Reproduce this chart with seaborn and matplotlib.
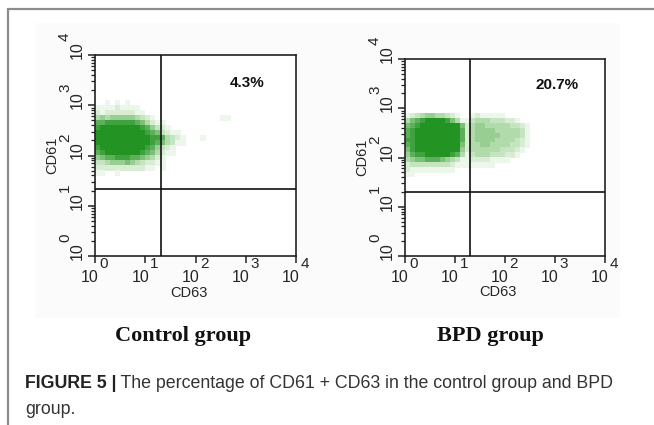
import numpy as np
import pandas as pd
import matplotlib
matplotlib.use("Agg")
import matplotlib.pyplot as plt
import seaborn as sns
from matplotlib.colors import LinearSegmentedColormap
from matplotlib.lines import Line2D
from matplotlib.patches import Rectangle
from matplotlib.ticker import LogLocator, NullFormatter
from matplotlib.transforms import blended_transform_factory, offset_copy

# ---------------- data ----------------
# density of events per 0.1-decade cell (0 = none, 9 = solid), rows top -> bottom
row_log_y = [3.1, 3.0, 2.9, 2.8, 2.7, 2.6, 2.5, 2.4, 2.3, 2.2, 2.1, 2.0, 1.9, 1.8, 1.7, 1.6]
col_log_x = [round(0.1 * i, 1) for i in range(28)]

control_density = [
    "0000000000000000000000000000",
    "0010101000000000000000000000",
    "1111211110000000000000000000",
    "2122222211000000000000000000",
    "4545555543210000000000000110",
    "7788888876421100000000000000",
    "8999999998753210000000000000",
    "9999999999876321100000000000",
    "9999999999988743210001000000",
    "9999999999987643110000000000",
    "8999999999875321000000000000",
    "7899999998764211000000000000",
    "5677888776542100000000000000",
    "3345556543221100000000000000",
    "2222222222110100000000000000",
    "1100100000000000000000000000",
]

bpd_density = [
    "0000000000000000000000000000",
    "0000000000000000000000000000",
    "0000000000000000000000000000",
    "1234554432100121111100000000",
    "4678999986411344433322100000",
    "6789999999962455444443321000",
    "7899999999972455554444431000",
    "7899999999972455555444431000",
    "8899999999972455554444321000",
    "7899999999962445544443321000",
    "6899999999952444444333210000",
    "5788999998741344433322100000",
    "4566777654311222211110000000",
    "2333333332111111110000000000",
    "2111111111000000000000000000",
    "1100000000000000000000000000",
]

groups = ["Control group", "BPD group"]
percent_labels = ["4.3%", "20.7%"]
gates = [(20.5, 22.0), (20.0, 20.0)]          # (CD63 gate, CD61 gate)
tick_values = [1, 10, 100, 1000, 10000]
tick_exponents = ["0", "1", "2", "3", "4"]
x_label = "CD63"
y_label = "CD61"
caption_bold = "FIGURE 5 |"
caption_rest = " The percentage of CD61 + CD63 in the control group and BPD"
caption_line2 = "group."


def cells(rows):
    recs = []
    for ly, r in zip(row_log_y, rows):
        r = r.ljust(len(col_log_x), "0")[:len(col_log_x)]
        for lx, ch in zip(col_log_x, r):
            d = int(ch)
            if d > 0:
                recs.append({"x": 10 ** (lx + 0.05), "y": 10 ** (ly + 0.05), "d": d})
    return pd.DataFrame(recs)


# ---------------- style ----------------
sns.set_style("white")
plt.rcParams["font.family"] = ["Liberation Sans", "DejaVu Sans"]

green_cmap = LinearSegmentedColormap.from_list("g", ["#ffffff", "#a8d6a0", "#239323"])

fig = plt.figure(figsize=(6.54, 4.25), dpi=100)
W, H = 654, 425

# faint image background and page frame
fig.patches.append(Rectangle((35 / W, 1 - 318 / H), (620 - 35) / W, (318 - 23) / H,
                             transform=fig.transFigure, facecolor="#fbfbfb",
                             edgecolor="none", zorder=-5))
fig.add_artist(Line2D([8 / W, 8 / W], [0, 1 - 9 / H], transform=fig.transFigure,
                      color="#8c8c8c", lw=1.6))
fig.add_artist(Line2D([8 / W, 1], [1 - 9 / H, 1 - 9 / H], transform=fig.transFigure,
                      color="#8c8c8c", lw=1.6))

axes_px = [(95, 55, 201, 201), (405, 59, 200, 197)]
datasets = [control_density, bpd_density]
label_x_px = [183, 490]
pct_pos = [(1050, 2750), (1100, 2950)]
TICK_FS = 11.5
SUP_FS = 11

for i, (l, t, w, h) in enumerate(axes_px):
    ax = fig.add_axes([l / W, 1 - (t + h) / H, w / W, h / H])
    ax.set_facecolor("white")
    df = cells(datasets[i])
    sns.scatterplot(data=df, x="x", y="y", hue="d", palette=green_cmap, hue_norm=(0, 9),
                    marker="s", s=15, linewidth=0, legend=False, ax=ax, zorder=2)
    ax.set_xscale("log")
    ax.set_yscale("log")
    ax.set_xlim(1, 1e4)
    ax.set_ylim(1, 1e4)
    gx, gy = gates[i]
    ax.axvline(gx, color="#111111", lw=1.2, zorder=3)
    ax.axhline(gy, color="#111111", lw=1.2, zorder=3)
    for sp in ax.spines.values():
        sp.set_color("#222222")
        sp.set_linewidth(1.2)
        sp.set_visible(True)
    ax.set_xticks(tick_values)
    ax.set_yticks(tick_values)
    ax.set_xticklabels([""] * len(tick_values))
    ax.set_yticklabels([""] * len(tick_values))
    ax.xaxis.set_minor_locator(LogLocator(base=10, subs=np.arange(2, 10)))
    ax.yaxis.set_minor_locator(LogLocator(base=10, subs=np.arange(2, 10)))
    ax.xaxis.set_minor_formatter(NullFormatter())
    ax.yaxis.set_minor_formatter(NullFormatter())
    ax.tick_params(which="major", direction="out", length=5, width=1.1, color="#222222",
                   bottom=True, left=True)
    ax.tick_params(which="minor", direction="out", length=3, width=0.9, color="#222222",
                   bottom=True, left=True)
    ax.set_xlabel("")
    ax.set_ylabel("")

    # "10" with large superscript tick labels (as in the flow cytometry software)
    tx = blended_transform_factory(ax.transData, ax.transAxes)
    ty = blended_transform_factory(ax.transAxes, ax.transData)
    for v, e in zip(tick_values, tick_exponents):
        ax.text(v, 0, "10", transform=offset_copy(tx, fig, x=-5, y=-21, units="dots"),
                ha="center", va="center", fontsize=TICK_FS, clip_on=False)
        ax.text(v, 0, e, transform=offset_copy(tx, fig, x=9, y=-8, units="dots"),
                ha="center", va="center", fontsize=SUP_FS, clip_on=False)
        ax.text(0, v, "10", transform=offset_copy(ty, fig, x=-18, y=5, units="dots"),
                ha="center", va="center", fontsize=TICK_FS, rotation=90, clip_on=False)
        ax.text(0, v, e, transform=offset_copy(ty, fig, x=-30, y=18, units="dots"),
                ha="center", va="center", fontsize=SUP_FS, rotation=90, clip_on=False)

    ax.text(0.465, -0.185, x_label, transform=ax.transAxes, ha="center", va="center",
            fontsize=10.5)
    ax.text(-0.215, 0.5, y_label, transform=ax.transAxes, ha="center", va="center",
            fontsize=10.5, rotation=90)
    px, py = pct_pos[i]
    ax.text(px, py, percent_labels[i], ha="center", va="center", fontsize=11,
            fontweight="bold", color="#111111")
    fig.text(label_x_px[i] / W, 1 - 336 / H, groups[i], ha="center", va="center",
             family=["Liberation Serif", "DejaVu Serif"], fontweight="bold", fontsize=16,
             color="#111111")

# caption
tb = fig.text(25 / W, 1 - 383 / H, caption_bold, ha="left", va="center", fontsize=12.8,
              fontweight="bold", color="#222222")
fig.canvas.draw()
bb = tb.get_window_extent(renderer=fig.canvas.get_renderer())
fig.text(bb.x1 / W, 1 - 383 / H, caption_rest, ha="left", va="center", fontsize=12.8,
         color="#333333")
fig.text(25 / W, 1 - 410 / H, caption_line2, ha="left", va="center", fontsize=12.8,
         color="#333333")

fig.savefig("out.png", dpi=100)
